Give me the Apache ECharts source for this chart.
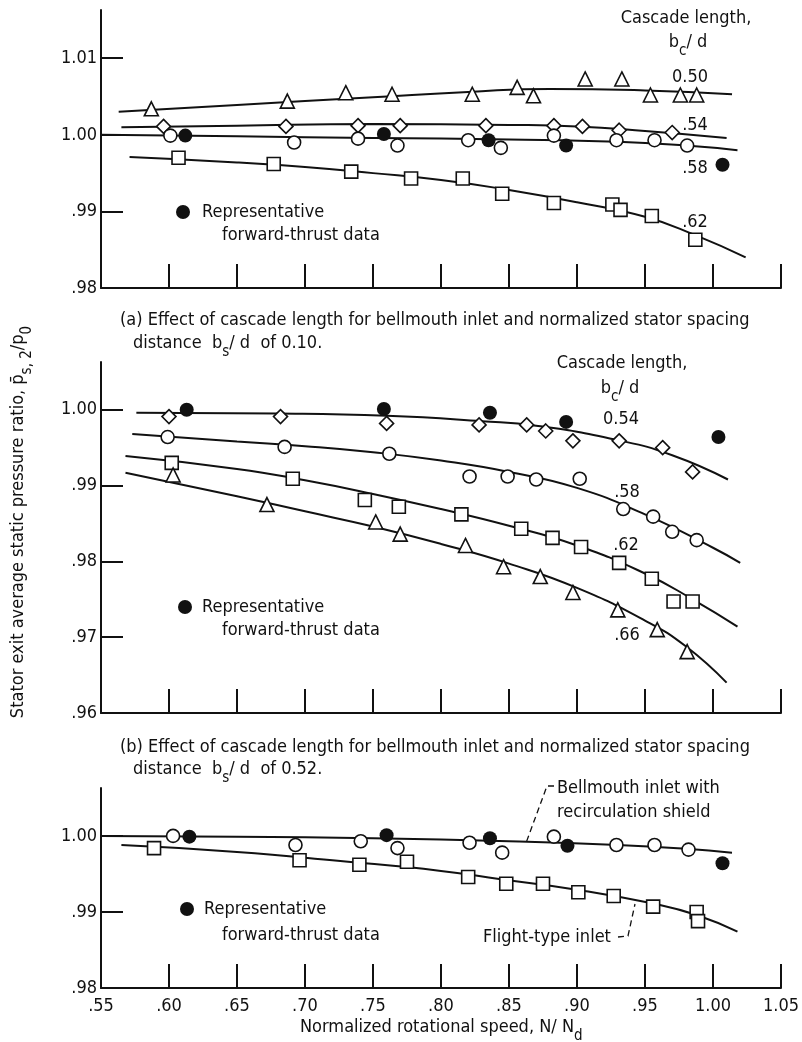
<!DOCTYPE html>
<html><head><meta charset="utf-8">
<script src="https://cdn.jsdelivr.net/npm/echarts@6/dist/echarts.min.js"></script>
<style>html,body{margin:0;padding:0;background:#fff}#c{width:802px;height:1042px}</style>
</head><body><div id="c"></div>
<script>
// ---------- axis ticks ----------
const xTicks = [0.55, 0.60, 0.65, 0.70, 0.75, 0.80, 0.85, 0.90, 0.95, 1.00, 1.05];
const xTickLabels = ['.55', '.60', '.65', '.70', '.75', '.80', '.85', '.90', '.95', '1.00', '1.05'];
const aYTicks = [0.98, 0.99, 1.00, 1.01];
const aYLabels = ['.98', '.99', '1.00', '1.01'];
const bYTicks = [0.96, 0.97, 0.98, 0.99, 1.00];
const bYLabels = ['.96', '.97', '.98', '.99', '1.00'];
const cYTicks = [0.98, 0.99, 1.00];
const cYLabels = ['.98', '.99', '1.00'];

// ---------- panel (a) data ----------
const aTriX = [0.587, 0.687, 0.730, 0.764, 0.823, 0.856, 0.868, 0.906, 0.933, 0.954, 0.976, 0.988];
const aTriY = [1.0034, 1.0044, 1.0055, 1.0053, 1.0053, 1.0062, 1.0051, 1.0073, 1.0073, 1.0052, 1.0052, 1.0052];
const aDiaX = [0.596, 0.686, 0.739, 0.770, 0.833, 0.883, 0.904, 0.931, 0.970];
const aDiaY = [1.0011, 1.0011, 1.0012, 1.0012, 1.0012, 1.0012, 1.0011, 1.0006, 1.0003];
const aCirX = [0.601, 0.692, 0.739, 0.768, 0.820, 0.844, 0.883, 0.929, 0.957, 0.981];
const aCirY = [0.9999, 0.9990, 0.9995, 0.9986, 0.9993, 0.9983, 0.9999, 0.9993, 0.9993, 0.9986];
const aSqX = [0.607, 0.677, 0.734, 0.778, 0.816, 0.845, 0.883, 0.926, 0.932, 0.955, 0.987];
const aSqY = [0.9970, 0.9962, 0.9952, 0.9943, 0.9943, 0.9923, 0.9911, 0.9909, 0.9902, 0.9894, 0.9863];
const aFillX = [0.612, 0.758, 0.835, 0.892, 1.007];
const aFillY = [0.9999, 1.0001, 0.9993, 0.9986, 0.9961];
const aTriCurveX = [0.563, 0.65, 0.75, 0.82, 0.88, 0.95, 1.014];
const aTriCurveY = [1.0030, 1.0039, 1.0049, 1.0056, 1.0060, 1.0058, 1.0053];
const aDiaCurveX = [0.565, 0.65, 0.75, 0.85, 0.90, 0.95, 1.010];
const aDiaCurveY = [1.0010, 1.0012, 1.0014, 1.0013, 1.0011, 1.0005, 0.9996];
const aCirCurveX = [0.55, 0.65, 0.75, 0.85, 0.93, 0.98, 1.018];
const aCirCurveY = [1.0000, 0.9998, 0.9996, 0.9994, 0.9991, 0.9986, 0.9980];
const aSqCurveX = [0.571, 0.65, 0.70, 0.75, 0.80, 0.85, 0.90, 0.95, 0.987, 1.024];
const aSqCurveY = [0.9971, 0.9964, 0.9958, 0.9950, 0.9941, 0.9928, 0.9912, 0.9893, 0.9869, 0.9840];

// ---------- panel (b) data ----------
const bDiaX = [0.600, 0.682, 0.760, 0.828, 0.863, 0.877, 0.897, 0.931, 0.963, 0.985];
const bDiaY = [0.9991, 0.9991, 0.9982, 0.9980, 0.9980, 0.9972, 0.9959, 0.9959, 0.9950, 0.9918];
const bFillX = [0.613, 0.758, 0.836, 0.892, 1.004];
const bFillY = [1.0000, 1.0001, 0.9996, 0.9984, 0.9964];
const bCirX = [0.599, 0.685, 0.762, 0.821, 0.849, 0.870, 0.902, 0.934, 0.956, 0.970, 0.988];
const bCirY = [0.9964, 0.9951, 0.9942, 0.9912, 0.9912, 0.9908, 0.9909, 0.9869, 0.9859, 0.9839, 0.9828];
const bSqX = [0.602, 0.691, 0.744, 0.769, 0.815, 0.859, 0.882, 0.903, 0.931, 0.955, 0.971, 0.985];
const bSqY = [0.9930, 0.9909, 0.9881, 0.9872, 0.9862, 0.9843, 0.9831, 0.9819, 0.9798, 0.9777, 0.9747, 0.9747];
const bTriX = [0.603, 0.672, 0.752, 0.770, 0.818, 0.846, 0.873, 0.897, 0.930, 0.959, 0.981];
const bTriY = [0.9914, 0.9875, 0.9852, 0.9836, 0.9821, 0.9793, 0.9780, 0.9759, 0.9736, 0.9710, 0.9681];
const bDiaCurveX = [0.576, 0.68, 0.76, 0.83, 0.87, 0.93, 0.97, 1.011];
const bDiaCurveY = [0.9996, 0.9995, 0.9992, 0.9985, 0.9979, 0.9960, 0.9940, 0.9908];
const bCirCurveX = [0.573, 0.65, 0.70, 0.75, 0.80, 0.85, 0.90, 0.95, 1.00, 1.020];
const bCirCurveY = [0.9968, 0.9958, 0.9952, 0.9944, 0.9933, 0.9918, 0.9897, 0.9862, 0.9818, 0.9798];
const bSqCurveX = [0.568, 0.65, 0.70, 0.75, 0.80, 0.85, 0.90, 0.95, 0.985, 1.018];
const bSqCurveY = [0.9939, 0.9922, 0.9907, 0.9889, 0.9869, 0.9847, 0.9821, 0.9784, 0.9750, 0.9714];
const bTriCurveX = [0.568, 0.65, 0.70, 0.75, 0.80, 0.85, 0.90, 0.95, 0.98, 1.010];
const bTriCurveY = [0.9917, 0.9886, 0.9866, 0.9846, 0.9823, 0.9797, 0.9765, 0.9722, 0.9688, 0.9640];

// ---------- panel (c) data ----------
const cCirX = [0.603, 0.693, 0.741, 0.768, 0.821, 0.845, 0.883, 0.929, 0.957, 0.982];
const cCirY = [1.0000, 0.9988, 0.9993, 0.9984, 0.9991, 0.9978, 0.9999, 0.9988, 0.9988, 0.9982];
const cFillX = [0.615, 0.760, 0.836, 0.893, 1.007];
const cFillY = [0.9999, 1.0001, 0.9997, 0.9987, 0.9964];
const cSqX = [0.589, 0.696, 0.740, 0.775, 0.820, 0.848, 0.875, 0.901, 0.927, 0.956, 0.988, 0.989];
const cSqY = [0.9984, 0.9968, 0.9962, 0.9966, 0.9946, 0.9937, 0.9937, 0.9926, 0.9921, 0.9907, 0.9900, 0.9888];
const cCirCurveX = [0.55, 0.65, 0.75, 0.85, 0.93, 0.98, 1.014];
const cCirCurveY = [1.0000, 0.9999, 0.9997, 0.9993, 0.9988, 0.9983, 0.9978];
const cSqCurveX = [0.565, 0.65, 0.726, 0.80, 0.844, 0.901, 0.956, 0.988, 1.018];
const cSqCurveY = [0.9988, 0.9979, 0.9967, 0.9954, 0.9943, 0.9929, 0.9911, 0.9896, 0.9874];

// ---------- build ----------
const FONT = "'Liberation Sans Narrow', 'DejaVu Sans Condensed', 'Liberation Sans', sans-serif";
const INK = '#111';
const zip = (xs, ys) => xs.map((x, i) => [x, ys[i]]);

function pts(g, xs, ys, symbol, size, filled) {
  return {
    type: 'scatter', xAxisIndex: g, yAxisIndex: g, data: zip(xs, ys),
    symbol: symbol, symbolSize: size, z: filled ? 4 : 3, silent: true,
    itemStyle: { color: filled ? INK : '#fff', borderColor: INK, borderWidth: filled ? 0 : 1.6, opacity: 1 }
  };
}
function curve(g, xs, ys) {
  return {
    type: 'line', xAxisIndex: g, yAxisIndex: g, data: zip(xs, ys), smooth: 0.5,
    showSymbol: false, symbol: 'none', z: 2, silent: true,
    lineStyle: { color: INK, width: 2 }
  };
}

const grids = [
  { left: 101, top: 10, width: 680, height: 278 },
  { left: 101, top: 362, width: 680, height: 351 },
  { left: 101, top: 788, width: 680, height: 200 }
];
const yDefs = [
  { min: 0.98, max: 1.0163, ticks: aYTicks, labels: aYLabels },
  { min: 0.96, max: 1.0063, ticks: bYTicks, labels: bYLabels },
  { min: 0.98, max: 1.0063, ticks: cYTicks, labels: cYLabels }
];

const xAxes = grids.map((g, i) => ({
  type: 'value', gridIndex: i, min: 0.55, max: 1.05, interval: 0.05,
  axisLine: { show: true, onZero: false, lineStyle: { color: INK, width: 2 } },
  axisTick: { show: true, inside: true, length: 24, lineStyle: { color: INK, width: 2 } },
  splitLine: { show: false },
  axisLabel: {
    show: i === 2, margin: 9, color: INK, fontSize: 18, fontFamily: FONT,
    formatter: (v, idx) => xTickLabels[idx] !== undefined ? xTickLabels[idx] : ''
  }
}));
const yAxes = yDefs.map((d, i) => ({
  type: 'value', gridIndex: i, min: d.min, max: d.max,
  axisLine: { show: true, onZero: false, lineStyle: { color: INK, width: 2 } },
  axisTick: { show: true, inside: true, length: 22, customValues: d.ticks, lineStyle: { color: INK, width: 2 } },
  splitLine: { show: false },
  axisLabel: {
    show: true, margin: 4, color: INK, fontSize: 18, fontFamily: FONT, customValues: d.ticks,
    formatter: (v) => { const k = d.ticks.findIndex(t => Math.abs(t - v) < 1e-6); return k >= 0 ? d.labels[k] : ''; }
  }
}));

const series = [
  curve(0, aTriCurveX, aTriCurveY), curve(0, aDiaCurveX, aDiaCurveY),
  curve(0, aCirCurveX, aCirCurveY), curve(0, aSqCurveX, aSqCurveY),
  pts(0, aTriX, aTriY, 'triangle', 14), pts(0, aDiaX, aDiaY, 'diamond', 14),
  pts(0, aCirX, aCirY, 'circle', 13), pts(0, aSqX, aSqY, 'rect', 13),
  pts(0, aFillX, aFillY, 'circle', 14, true),

  curve(1, bDiaCurveX, bDiaCurveY), curve(1, bCirCurveX, bCirCurveY),
  curve(1, bSqCurveX, bSqCurveY), curve(1, bTriCurveX, bTriCurveY),
  pts(1, bDiaX, bDiaY, 'diamond', 14), pts(1, bCirX, bCirY, 'circle', 13),
  pts(1, bSqX, bSqY, 'rect', 13), pts(1, bTriX, bTriY, 'triangle', 14),
  pts(1, bFillX, bFillY, 'circle', 14, true),

  curve(2, cCirCurveX, cCirCurveY), curve(2, cSqCurveX, cSqCurveY),
  pts(2, cCirX, cCirY, 'circle', 13), pts(2, cSqX, cSqY, 'rect', 13),
  pts(2, cFillX, cFillY, 'circle', 14, true)
];

// ---------- text ----------
const base = { fill: INK, font: '18px ' + FONT, textVerticalAlign: 'middle' };
function txt(x, y, text, align) {
  return { type: 'text', x: x, y: y, z: 10, silent: true,
    style: Object.assign({}, base, { text: text, textAlign: align || 'left' }) };
}
const RICH = {
  n: { fontSize: 18, fontFamily: FONT, color: INK, lineHeight: 26, verticalAlign: 'top' },
  s: { fontSize: 15, fontFamily: FONT, color: INK, lineHeight: 26, verticalAlign: 'bottom', padding: [0, 0, 0, 0] }
};
function rich(x, y, text, align, rot) {
  return { type: 'text', x: x, y: y, z: 10, silent: true, rotation: rot || 0,
    style: { text: text, rich: RICH, fill: INK, font: '18px ' + FONT, textAlign: align || 'left', textVerticalAlign: 'middle' } };
}
function legendBlock(cx, cy, tx, ty2, tx2) {
  return [
    { type: 'circle', shape: { cx: cx, cy: cy, r: 7 }, style: { fill: INK }, z: 10, silent: true },
    txt(tx, cy, 'Representative'),
    txt(tx2, ty2, 'forward-thrust data')
  ];
}

const graphic = [].concat(
  // panel a labels
  [txt(686, 18, 'Cascade length,', 'center'),
   rich(688, 46, '{n|b}{s|c}{n|/ d}', 'center'),
   txt(690, 77, '0.50', 'center'),
   txt(695, 125, '.54', 'center'),
   txt(695, 168, '.58', 'center'),
   txt(695, 222, '.62', 'center')],
  legendBlock(183, 212, 202, 235, 222),
  [txt(120, 320, '(a) Effect of cascade length for bellmouth inlet and normalized stator spacing'),
   rich(133, 347, '{n|distance  b}{s|s}{n|/ d  of 0.10.}')],
  // panel b labels
  [txt(622, 363, 'Cascade length,', 'center'),
   rich(620, 392, '{n|b}{s|c}{n|/ d}', 'center'),
   txt(621, 419, '0.54', 'center'),
   txt(627, 492, '.58', 'center'),
   txt(626, 545, '.62', 'center'),
   txt(627, 635, '.66', 'center')],
  legendBlock(185, 607, 202, 630, 222),
  [txt(120, 747, '(b) Effect of cascade length for bellmouth inlet and normalized stator spacing'),
   rich(133, 773, '{n|distance  b}{s|s}{n|/ d  of 0.52.}')],
  // panel c labels
  legendBlock(187, 909, 204, 935, 222),
  [txt(557, 788, 'Bellmouth inlet with'),
   txt(557, 812, 'recirculation shield'),
   txt(483, 937, 'Flight-type inlet'),
   { type: 'polyline', shape: { points: [[554, 786], [547, 786], [526, 843]] }, z: 10, silent: true,
     style: { stroke: INK, lineWidth: 1.3, lineDash: [6, 4], fill: null } },
   { type: 'polyline', shape: { points: [[618, 937], [628, 936], [635, 904]] }, z: 10, silent: true,
     style: { stroke: INK, lineWidth: 1.3, lineDash: [6, 4], fill: null } },
   rich(300, 1031, '{n|Normalized rotational speed, N/ N}{s|d}'),
   rich(22, 522, '{n|Stator exit average static pressure ratio, p\u0304}{s|s, 2}{n|/p}{s|0}', 'center', Math.PI / 2)]
);

const chart = echarts.init(document.getElementById('c'), null, { renderer: 'canvas' });
chart.setOption({
  animation: false,
  backgroundColor: '#fff',
  grid: grids,
  xAxis: xAxes,
  yAxis: yAxes,
  series: series,
  graphic: graphic
});
</script>
</body></html>
